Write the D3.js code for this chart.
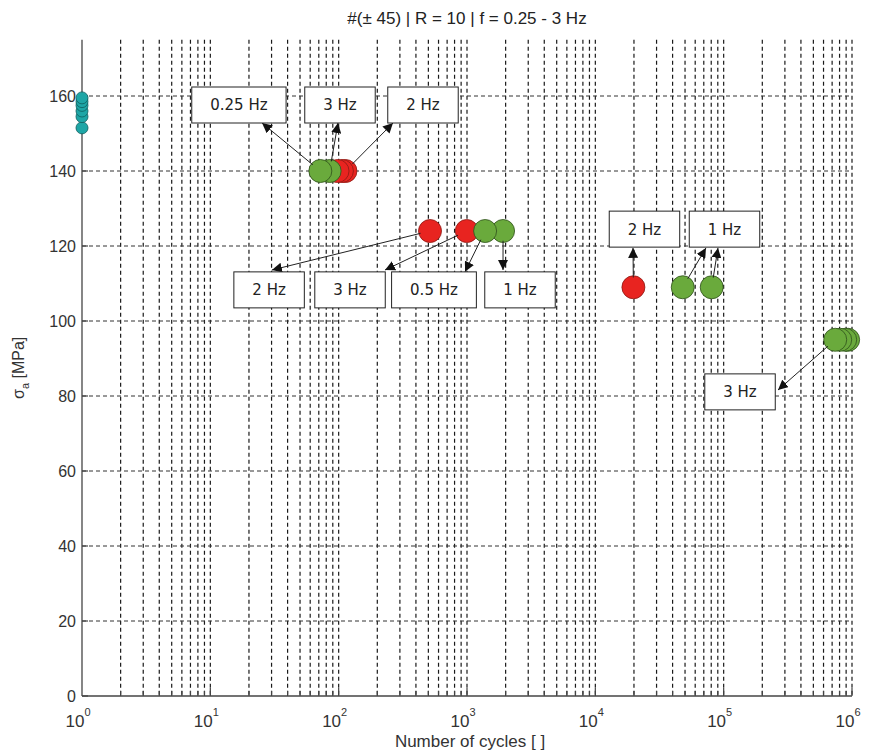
<!DOCTYPE html>
<html>
<head>
<meta charset="utf-8">
<script src="https://cdn.jsdelivr.net/npm/d3@7"></script>
<style>
  html, body { margin: 0; padding: 0; background: #fff; }
  svg { display: block; }
  .axis-text { font-family: "Liberation Sans", Arial, sans-serif; fill: #333; }
  .note-text { font-family: "DejaVu Sans", Verdana, sans-serif; fill: #222; }
</style>
</head>
<body>
<svg id="chart" width="872" height="751"></svg>
<script>
// Fatigue results, #(±45) laminate, R = 10, loading frequency 0.25 - 3 Hz
const titleText = "#(\u00b1 45) | R = 10 | f = 0.25 - 3 Hz";
const xLabelText = "Number of cycles [ ]";

// Static strength points (plotted at N = 1)
const tealCycles = [1, 1, 1, 1, 1, 1];
const tealStress = [159.5, 158.5, 157.5, 156, 154.5, 151.5];

// Red specimens
const redCycles = [98, 106, 113, 515, 996, 19800];
const redStress = [140, 140, 140, 124, 124, 109];

// Green specimens
const greenCycles = [72, 85, 1384, 1910, 48000, 80700, 740000, 809000, 885000, 933000];
const greenStress = [140, 140, 124, 124, 109, 109, 95, 95, 95, 95];

// Axis ticks
const yTicks = [0, 20, 40, 60, 80, 100, 120, 140, 160];
const xDecades = [0, 1, 2, 3, 4, 5, 6];

// Frequency annotations: start marker (cycles, stress), arrow tip and box centre in data units
const noteText  = ["0.25 Hz", "3 Hz", "2 Hz", "2 Hz", "3 Hz", "0.5 Hz", "1 Hz", "2 Hz", "1 Hz", "1 Hz", "3 Hz"];
const noteFromN = [72, 85, 113, 515, 996, 1384, 1910, 19800, 48000, 80700, 740000];
const noteFromS = [140, 140, 140, 124, 124, 124, 124, 109, 109, 109, 95];
const noteTipN  = [25.3, 98.8, 265, 30.2, 229.6, 965, 1908, 19660, 72800, 90300, 265100];
const noteTipS  = [152.8, 152.8, 152.8, 113.6, 113.6, 113.1, 113.6, 119.5, 119.5, 119.5, 81.6];
const noteBoxN  = [16.7, 102.4, 454, 28.7, 122.6, 553, 2588, 24150, 101500, 101500, 134100];
const noteBoxS  = [157.6, 157.6, 157.6, 108.3, 108.3, 108.3, 108.3, 124.5, 124.5, 124.5, 81.1];

const svg = d3.select("#chart");
const W = 872, H = 751;
const m = { left: 82, right: 20, top: 39.75, bottom: 55 };

const x = d3.scaleLog().domain([1, 1e6]).range([m.left, W - m.right]);
const y = d3.scaleLinear().domain([0, 175]).range([H - m.bottom, m.top]);

const yTop = y.range()[1], yBot = y.range()[0];
const xL = x.range()[0], xR = x.range()[1];

// Grid: minor + major log lines, horizontal lines at labelled stresses
const gridG = svg.append("g");
const xGridVals = [];
xDecades.slice(0, -1).forEach(d => {
  for (let k = 1; k <= 9; k++) {
    const v = k * Math.pow(10, d);
    if (v > 1) xGridVals.push(v);
  }
});
xGridVals.push(1e6);

gridG.selectAll("line.vg").data(xGridVals).join("line")
  .attr("class", "vg")
  .attr("x1", d => x(d)).attr("x2", d => x(d))
  .attr("y1", yTop).attr("y2", yBot)
  .attr("stroke", "#1a1a1a").attr("stroke-width", 1.2)
  .attr("stroke-dasharray", "4,3");

gridG.selectAll("line.hg").data(yTicks.filter(v => v > 0)).join("line")
  .attr("class", "hg")
  .attr("x1", xL).attr("x2", xR)
  .attr("y1", d => y(d)).attr("y2", d => y(d))
  .attr("stroke", "#333").attr("stroke-width", 1)
  .attr("stroke-dasharray", "4,3");

// Axes lines
const axG = svg.append("g");
axG.append("line").attr("x1", xL).attr("x2", xL).attr("y1", yTop).attr("y2", yBot)
  .attr("stroke", "#444").attr("stroke-width", 1.3);
axG.append("line").attr("x1", xL).attr("x2", xR).attr("y1", yBot).attr("y2", yBot)
  .attr("stroke", "#444").attr("stroke-width", 1.3);

// Inward ticks
axG.selectAll("line.yt").data(yTicks).join("line")
  .attr("class", "yt")
  .attr("x1", xL).attr("x2", xL + 6)
  .attr("y1", d => y(d)).attr("y2", d => y(d))
  .attr("stroke", "#444").attr("stroke-width", 1.2);

axG.selectAll("line.xt").data(xGridVals).join("line")
  .attr("class", "xt")
  .attr("x1", d => x(d)).attr("x2", d => x(d))
  .attr("y1", yBot).attr("y2", d => {
    const l = Math.log10(d);
    return yBot - (Math.abs(l - Math.round(l)) < 1e-9 ? 8 : 5);
  })
  .attr("stroke", "#444").attr("stroke-width", 1.2);

// Y tick labels
axG.selectAll("text.yl").data(yTicks).join("text")
  .attr("class", "axis-text yl")
  .attr("x", xL - 6).attr("y", d => y(d))
  .attr("dy", "0.36em")
  .attr("text-anchor", "end")
  .attr("font-size", 16)
  .text(d => d);

// X tick labels as powers of ten
const xl = axG.selectAll("text.xl").data(xDecades).join("text")
  .attr("class", "axis-text xl")
  .attr("x", d => x(Math.pow(10, d)) - 4)
  .attr("y", yBot + 31)
  .attr("text-anchor", "middle")
  .attr("font-size", 17);
xl.append("tspan").text("10");
xl.append("tspan").attr("dy", -11).attr("font-size", 11).text(d => d);

// Axis titles
svg.append("text").attr("class", "axis-text")
  .attr("x", (xL + xR) / 2 + 3).attr("y", H - 4)
  .attr("text-anchor", "middle").attr("font-size", 17)
  .text(xLabelText);

const yLab = svg.append("text").attr("class", "axis-text")
  .attr("transform", `translate(24,${(yTop + yBot) / 2}) rotate(-90)`)
  .attr("text-anchor", "middle").attr("font-size", 16);
yLab.append("tspan").text("\u03c3");
yLab.append("tspan").attr("dy", 5).attr("font-size", 11).text("a");
yLab.append("tspan").attr("dy", -5).text(" [MPa]");

svg.append("text").attr("class", "axis-text")
  .attr("x", (xL + xR) / 2).attr("y", 24)
  .attr("text-anchor", "middle").attr("font-size", 17)
  .style("fill", "#222")
  .text(titleText);

// Markers
const ptG = svg.append("g");
const teal = tealCycles.map((c, i) => ({ c, s: tealStress[i] }));
const red = redCycles.map((c, i) => ({ c, s: redStress[i] }));
const green = greenCycles.map((c, i) => ({ c, s: greenStress[i] }));

ptG.selectAll("circle.tl").data(teal.slice().reverse()).join("circle")
  .attr("cx", d => x(d.c)).attr("cy", d => y(d.s)).attr("r", 6)
  .attr("fill", "#1ea6a6").attr("stroke", "#0d5e5e").attr("stroke-width", 0.8);

const R = 11.5;
ptG.selectAll("circle.rd").data(red.slice().sort((a, b) => b.c - a.c)).join("circle")
  .attr("class", "rd")
  .attr("cx", d => x(d.c)).attr("cy", d => y(d.s)).attr("r", R)
  .attr("fill", "#e82420").attr("stroke", "#8a1a14").attr("stroke-width", 0.8);

ptG.selectAll("circle.gr").data(green.slice().sort((a, b) => b.c - a.c)).join("circle")
  .attr("class", "gr")
  .attr("cx", d => x(d.c)).attr("cy", d => y(d.s)).attr("r", R)
  .attr("fill", "#6aaa3c").attr("stroke", "#2f4f1c").attr("stroke-width", 0.8);

// Annotations
svg.append("defs").append("marker")
  .attr("id", "arr").attr("viewBox", "0 0 10 10")
  .attr("refX", 10).attr("refY", 5)
  .attr("markerWidth", 10).attr("markerHeight", 10)
  .attr("markerUnits", "userSpaceOnUse")
  .attr("orient", "auto")
  .append("path").attr("d", "M0,0 L10,5 L0,10 Z").attr("fill", "#111");

const notes = noteText.map((t, i) => ({
  t,
  fx: x(noteFromN[i]), fy: y(noteFromS[i]),
  tx: x(noteTipN[i]), ty: y(noteTipS[i]),
  bx: x(noteBoxN[i]), by: y(noteBoxS[i])
}));

const noteG = svg.append("g");
notes.forEach(n => {
  const dx = n.tx - n.fx, dy = n.ty - n.fy;
  const len = Math.hypot(dx, dy);
  const sx = n.fx + dx / len * (R * 0.85), sy = n.fy + dy / len * (R * 0.85);
  noteG.append("line")
    .attr("x1", sx).attr("y1", sy).attr("x2", n.tx).attr("y2", n.ty)
    .attr("stroke", "#222").attr("stroke-width", 1)
    .attr("marker-end", "url(#arr)");
});

// Boxes (one per distinct label position)
const boxKeys = new Set();
notes.forEach(n => {
  const key = n.t + "|" + Math.round(n.bx) + "|" + Math.round(n.by);
  if (boxKeys.has(key)) return;
  boxKeys.add(key);
  const g = noteG.append("g");
  const txt = g.append("text").attr("class", "note-text")
    .attr("x", n.bx).attr("y", n.by).attr("dy", "0.36em")
    .attr("text-anchor", "middle").attr("font-size", 15)
    .text(n.t);
  const tw = txt.node().getComputedTextLength();
  const bw = tw + 37, bh = 36;
  g.insert("rect", "text")
    .attr("x", n.bx - bw / 2).attr("y", n.by - bh / 2)
    .attr("width", bw).attr("height", bh)
    .attr("fill", "#fff").attr("stroke", "#222").attr("stroke-width", 1);
});
</script>
</body>
</html>
